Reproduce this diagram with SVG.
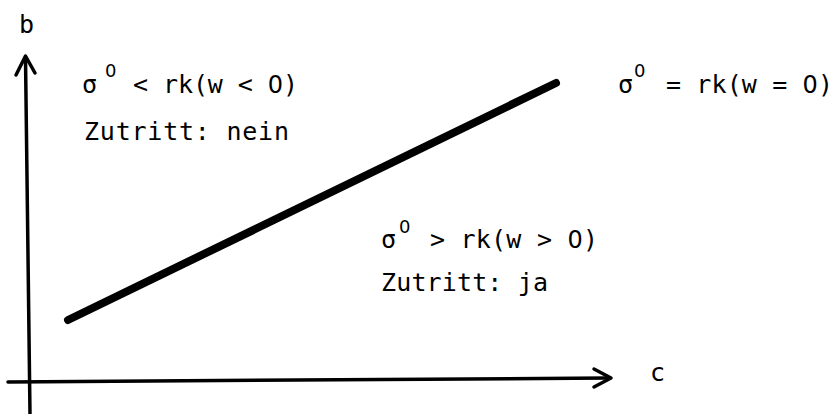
<svg xmlns="http://www.w3.org/2000/svg" width="839" height="414" viewBox="0 0 839 414">
<style>
text{font-family:"DejaVu Sans Mono","Liberation Mono",monospace;font-size:25px;fill:#000}
.sup{font-size:18px;font-family:"DejaVu Sans","Liberation Sans",sans-serif}
.z{font-family:"DejaVu Sans","Liberation Sans",sans-serif;font-size:24px}
.ax{stroke:#000;stroke-width:3.5;fill:none;stroke-linecap:round;stroke-linejoin:round}
</style>
<rect width="839" height="414" fill="#fff"/>
<g id="connectors">
<line class="ax" x1="25.5" y1="58" x2="30" y2="414"/>
<path class="ax" d="M16,75 L25.5,56 L35,73"/>
<line class="ax" x1="8" y1="382" x2="608" y2="378"/>
<path class="ax" d="M594,369 L611,378 L594,387" stroke-width="4"/>
<line id="boundary" x1="68" y1="320" x2="556" y2="83" stroke="#000" stroke-width="8" stroke-linecap="round"/>
</g>
<g id="label-b"><text x="19" y="33">b</text></g>
<g id="label-c"><text x="650" y="381">c</text></g>
<g id="region-upper">
<text x="82" y="93">σ</text>
<text class="sup" x="105" y="77">0</text>
<text x="133" y="93" textLength="165" lengthAdjust="spacing">&lt; rk(w &lt; <tspan class="z">0</tspan>)</text>
<text x="84" y="140" textLength="205" lengthAdjust="spacing">Zutritt: nein</text>
</g>
<g id="region-line">
<text x="618" y="93">σ</text>
<text class="sup" x="634" y="77">0</text>
<text x="666" y="93" textLength="167" lengthAdjust="spacing">= rk(w = <tspan class="z">0</tspan>)</text>
</g>
<g id="region-lower">
<text x="381" y="248">σ</text>
<text class="sup" x="399" y="233">0</text>
<text x="430" y="248" textLength="168" lengthAdjust="spacing">&gt; rk(w &gt; <tspan class="z">0</tspan>)</text>
<text x="381" y="291" textLength="167" lengthAdjust="spacing">Zutritt: ja</text>
</g>
</svg>
